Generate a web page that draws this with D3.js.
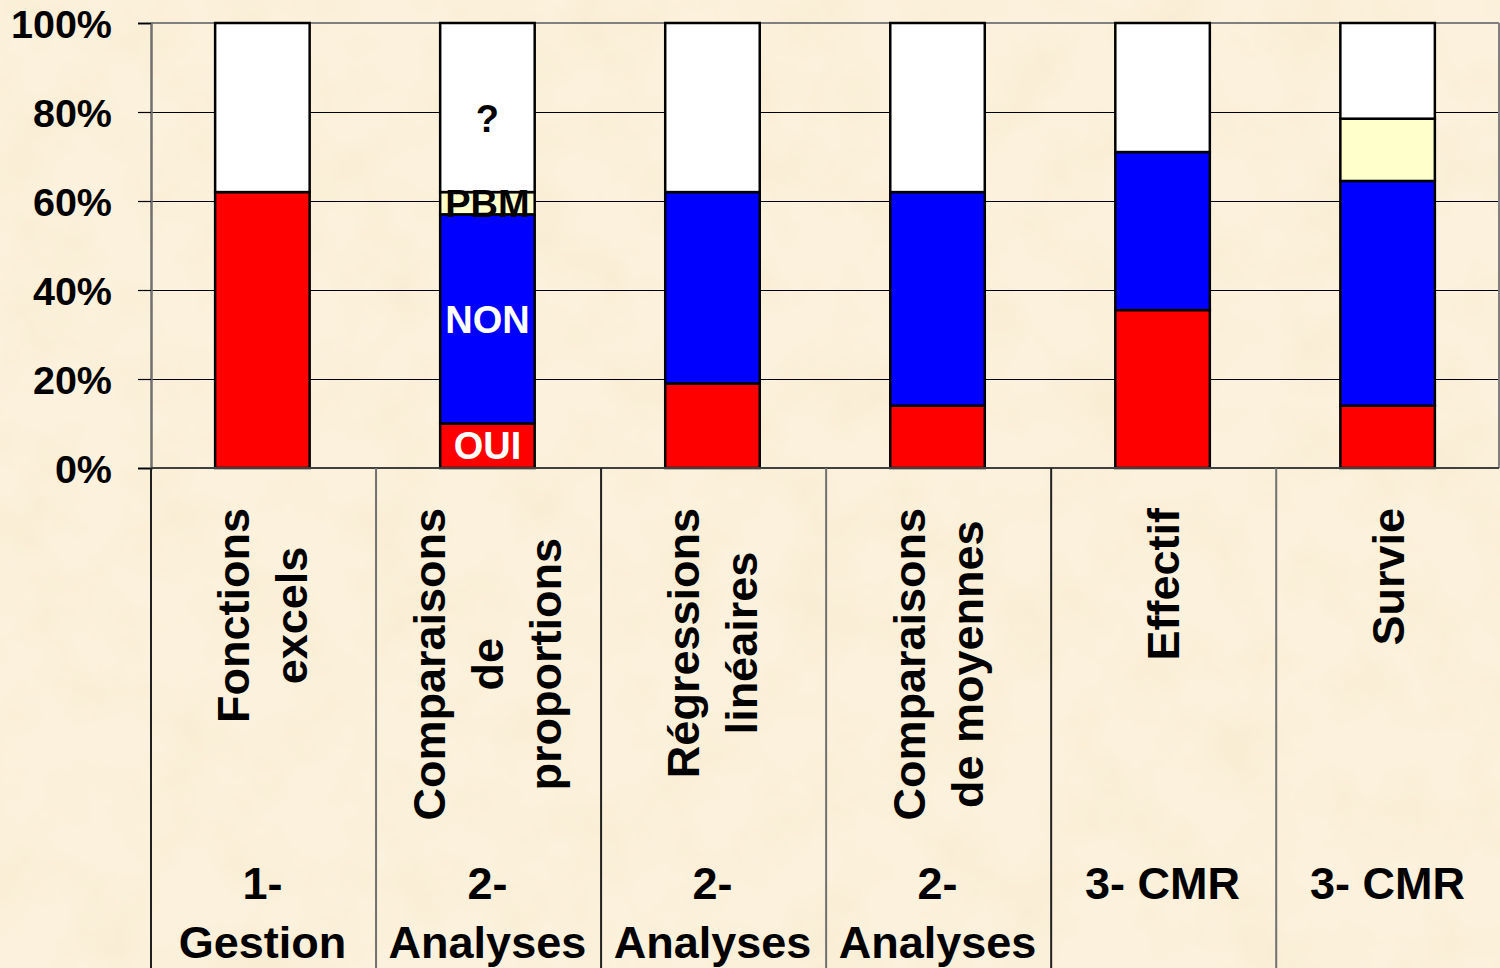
<!DOCTYPE html>
<html>
<head>
<meta charset="utf-8">
<script src="https://cdn.jsdelivr.net/npm/d3@7"></script>
<style>
  html, body { margin: 0; padding: 0; background: #fcf1dc; }
  svg { display: block; }
  text { font-family: "Liberation Sans", Arial, sans-serif; font-weight: bold; }
</style>
</head>
<body>
<svg id="chart" width="1500" height="968"></svg>
<script>
"use strict";

// data (percent of answers)
var categories = ["Fonctions excels", "Comparaisons de proportions", "Régressions linéaires",
                  "Comparaisons de moyennes", "Effectif", "Survie"];
var catLines = [["Fonctions", "excels"], ["Comparaisons", "de", "proportions"],
                ["Régressions", "linéaires"], ["Comparaisons", "de moyennes"],
                ["Effectif"], ["Survie"]];
var groupLines = [["1-", "Gestion"], ["2-", "Analyses"], ["2-", "Analyses"],
                  ["2-", "Analyses"], ["3- CMR"], ["3- CMR"]];
var seriesNames = ["OUI", "NON", "PBM", "?"];
var oui = [62, 10, 19, 14, 35.5, 14];
var non = [0, 47, 43, 48, 35.5, 50.5];
var pbm = [0, 5, 0, 0, 0, 14];
var unknown = [38, 38, 38, 38, 29, 21.5];
var yTicks = [0, 20, 40, 60, 80, 100];
var labelledCategory = "Comparaisons de proportions";

var colors = { "OUI": "#ff0000", "NON": "#0000ff", "PBM": "#ffffcc", "?": "#ffffff" };
var labelColors = { "OUI": "#ffffff", "NON": "#ffffff", "PBM": "#000000", "?": "#000000" };

var Chart = (function(){
	var svg, x, y,
		top = 23, bottom = 468, left = 151, right = 1499;

	function init(el) {
		svg = d3.select("#" + el);
		paper();
		x = d3.scaleBand().domain(categories).range([left, right])
			.paddingInner(0.58).paddingOuter(0.285);
		y = d3.scaleLinear().domain([0, 100]).range([bottom, top]);
		grid();
		bars();
		axes();
		labels();
	}

	function paper() {
		var f = svg.append("defs").append("filter").attr("id", "paper")
			.attr("x", 0).attr("y", 0).attr("width", 1).attr("height", 1);
		f.append("feTurbulence").attr("type", "fractalNoise")
			.attr("baseFrequency", 0.014).attr("numOctaves", 4).attr("seed", 7);
		f.append("feColorMatrix").attr("type", "matrix")
			.attr("values", "0 0 0 0 0.86  0 0 0 0 0.74  0 0 0 0 0.48  0.5 0 0 0 -0.2");
		svg.append("rect").attr("width", 1500).attr("height", 968).attr("fill", "#fcf1dc");
		svg.append("rect").attr("width", 1500).attr("height", 968).attr("filter", "url(#paper)");
	}

	function grid() {
		svg.append("g").selectAll("line")
			.data(yTicks.filter(function(d) { return d > 0 && d < 100; }))
			.enter().append("line")
			.attr("x1", left).attr("x2", right)
			.attr("y1", function(d) { return y(d) + 0.5; })
			.attr("y2", function(d) { return y(d) + 0.5; })
			.attr("stroke", "#000").attr("stroke-width", 1.2);
		// plot border top / right
		svg.append("line").attr("x1", left).attr("x2", right)
			.attr("y1", y(100)).attr("y2", y(100))
			.attr("stroke", "#808080").attr("stroke-width", 2);
		svg.append("line").attr("x1", right).attr("x2", right)
			.attr("y1", y(100)).attr("y2", y(0))
			.attr("stroke", "#808080").attr("stroke-width", 2);
	}

	function bars() {
		var rows = categories.map(function(c, i) {
			return { cat: c, "OUI": oui[i], "NON": non[i], "PBM": pbm[i], "?": unknown[i] };
		});
		var stacked = d3.stack().keys(seriesNames)(rows);

		var layer = svg.append("g").selectAll("g")
			.data(stacked).enter().append("g")
			.attr("fill", function(d) { return colors[d.key]; });

		layer.selectAll("rect")
			.data(function(d) { return d.filter(function(s) { return s[1] - s[0] > 0; }); })
			.enter().append("rect")
			.attr("x", function(d) { return x(d.data.cat); })
			.attr("width", x.bandwidth())
			.attr("y", function(d) { return y(d[1]); })
			.attr("height", function(d) { return y(d[0]) - y(d[1]); })
			.attr("stroke", "#000").attr("stroke-width", 2.5);

		// data labels on the second bar
		stacked.forEach(function(s) {
			var seg = s.filter(function(d) { return d.data.cat == labelledCategory; })[0];
			svg.append("text")
				.attr("x", x(labelledCategory) + x.bandwidth() / 2)
				.attr("y", y((seg[0] + seg[1]) / 2))
				.attr("dy", s.key == "?" ? "0.65em" : "0.36em")
				.attr("text-anchor", "middle")
				.attr("font-size", 38)
				.attr("fill", labelColors[s.key])
				.text(s.key);
		});
	}

	function axes() {
		var yAxis = d3.axisLeft(y).tickValues(yTicks)
			.tickFormat(function(d) { return d + "%"; })
			.tickSize(13).tickPadding(26);
		var g = svg.append("g").attr("transform", "translate(" + left + ",0)").call(yAxis);
		g.select(".domain").attr("stroke", "#707070").attr("stroke-width", 2.5);
		g.selectAll(".tick line").attr("stroke", "#000").attr("stroke-width", 1.2);
		g.selectAll(".tick text").attr("font-size", 39.5).attr("fill", "#000")
			.attr("font-family", "Liberation Sans, Arial, sans-serif").attr("font-weight", "bold")
			.attr("dy", "0.36em");

		// category axis line and separators
		svg.append("line").attr("x1", left).attr("x2", right)
			.attr("y1", bottom).attr("y2", bottom)
			.attr("stroke", "#404040").attr("stroke-width", 2);
		var step = x.step();
		svg.append("g").selectAll("line")
			.data(d3.range(categories.length + 1))
			.enter().append("line")
			.attr("x1", function(i) { return left + i * step; })
			.attr("x2", function(i) { return left + i * step; })
			.attr("y1", bottom).attr("y2", 968)
			.attr("stroke", function(i) { return i % 2 ? "#707070" : "#202020"; })
			.attr("stroke-width", 2);
	}

	function labels() {
		var lineGap = 58, fs = 45;
		categories.forEach(function(c, i) {
			var cx = x(c) + x.bandwidth() / 2,
				lines = catLines[i];
			var g = svg.append("g");
			var texts = lines.map(function(t) {
				return g.append("text").attr("font-size", fs)
					.attr("text-anchor", "middle").attr("fill", "#000").text(t);
			});
			var w = d3.max(texts, function(t) { return t.node().getComputedTextLength(); });
			var cy = 508 + w / 2;
			texts.forEach(function(t, j) {
				var off = (j - (lines.length - 1) / 2) * lineGap;
				t.attr("transform", "translate(" + (cx + off + 16) + "," + cy + ") rotate(-90)");
			});

			groupLines[i].forEach(function(t, j) {
				svg.append("text")
					.attr("x", cx).attr("y", 899 + j * 59)
					.attr("text-anchor", "middle")
					.attr("font-size", fs).attr("fill", "#000")
					.text(t);
			});
		});
	}

	return {
		"init": init
	};
}());

Chart.init("chart");
</script>
</body>
</html>
